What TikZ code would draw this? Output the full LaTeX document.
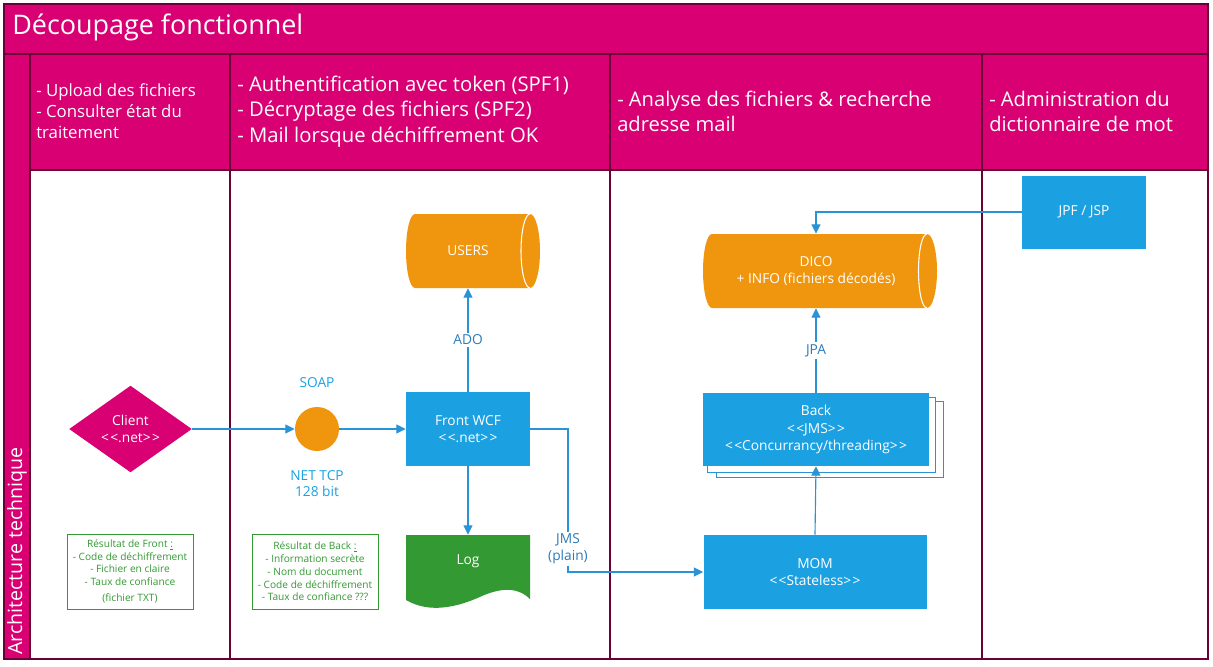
\documentclass[tikz,border=0pt]{standalone}
\usepackage{fontspec}
\setmainfont{Open Sans}
\usetikzlibrary{arrows.meta,shapes.geometric}
\definecolor{mag}{HTML}{D80073}
\definecolor{lane}{HTML}{6B0038}
\definecolor{mblue}{HTML}{1BA1E2}
\definecolor{cblue}{HTML}{2A93D5}
\definecolor{tblue}{HTML}{2B7BB9}
\definecolor{morange}{HTML}{F0960E}
\definecolor{mgreen}{HTML}{339933}
\begin{document}
\begin{tikzpicture}[x=0.75pt,y=-0.75pt,
  lanes/.style={draw=lane,line width=0.8pt},
  hdr/.style={anchor=west,align=left,text=white,inner sep=0pt},
  bluebox/.style={fill=mblue,text=white,align=center,inner sep=0pt,font=\fontsize{10.3}{13}\selectfont},
  ghost/.style={align=center,inner sep=0pt,text=white,font=\fontsize{10.3}{13}\selectfont},
  conn/.style={draw=cblue,line width=0.85pt,-{Triangle[width=6.75pt,length=7pt]}},
  lbl/.style={fill=white,text=tblue,inner sep=1.5pt,align=center,font=\fontsize{10.3}{12.5}\selectfont},
  proto/.style={text=mblue,inner sep=0pt,align=center,font=\fontsize{10.3}{12.5}\selectfont},
  note/.style={draw=mgreen,line width=0.75pt,text=mgreen,align=center,inner sep=0pt,
    minimum width=94.5pt,minimum height=56.25pt,font=\fontsize{7.6}{9.6}\selectfont}]
\useasboundingbox (0,0) rectangle (1213,667);
% pool background
\fill[mag] (4,4) rectangle (1208,170);
\fill[mag] (4,170) rectangle (30,659);
\fill[white] (30,170) rectangle (1208,659);
\draw[lanes] (4,4) rectangle (1208,659);
\draw[lanes] (4,54) -- (1208,54);
\draw[lanes] (30,54) -- (30,659);
\draw[lanes] (30,170) -- (1208,170);
\draw[lanes] (230,54) -- (230,659);
\draw[lanes] (610,54) -- (610,659);
\draw[lanes] (982,54) -- (982,659);
% titles
\node[hdr,font=\fontsize{20.2}{24}\selectfont] (title) at (12,27) {Découpage fonctionnel};
\node[hdr,font=\fontsize{12.6}{15.75}\selectfont] (h1) at (36,111) {- Upload des fichiers\\- Consulter état du\\traitement};
\node[hdr,font=\fontsize{15.2}{19}\selectfont] (h2) at (237,111.5) {- Authentification avec token (SPF1)\\- Décryptage des fichiers (SPF2)\\- Mail lorsque déchiffrement OK};
\node[hdr,font=\fontsize{15.1}{18.75}\selectfont] (h3) at (617,111.5) {- Analyse des fichiers \& recherche\\adresse mail};
\node[hdr,font=\fontsize{15.1}{18.75}\selectfont] (h4) at (989,111.5) {- Administration du\\dictionnaire de mot};
\node[hdr,rotate=90,font=\fontsize{14.7}{17}\selectfont] (arch) at (17,655) {Architecture technique};
% client
\node[diamond,fill=mag,text=white,inner sep=0pt,minimum width=92pt,minimum height=55pt,align=center,
  font=\fontsize{10.3}{13}\selectfont] (client) at (130.5,429) {Client\\<\kern1pt<.net>\kern1pt>};
% soap
\node[circle,fill=morange,minimum size=33pt,inner sep=0pt] (soap) at (317,429) {};
\node[proto] (soaplbl) at (317,383) {SOAP};
\node[proto] (tcplbl) at (317,483.5) {NET TCP\\128 bit};
% front
\node[bluebox,minimum width=93pt,minimum height=55.5pt] (front) at (468,429) {Front WCF\\<\kern1pt<.net>\kern1pt>};
% users cylinder
\fill[morange] (415,214) -- (530,214) .. controls (535.5,214) and (540,230.6) .. (540,251)
  .. controls (540,271.4) and (535.5,288) .. (530,288) -- (415,288)
  .. controls (410,288) and (406,271.4) .. (406,251) .. controls (406,230.6) and (410,214) .. (415,214) -- cycle;
\draw[white,line width=0.8pt] (530,214) .. controls (525,214) and (521,230.6) .. (521,251)
  .. controls (521,271.4) and (525,288) .. (530,288);
\node[ghost,minimum height=55.5pt] (users) at (468,251) {USERS};
% log document
\fill[mgreen] (406,535) -- (530,535) -- (530,599) .. controls (520,589) and (505,586) .. (482,596)
  .. controls (458,607) and (430,614) .. (406,600) -- cycle;
\node[ghost,minimum width=93pt,minimum height=39.75pt] (log) at (468,561.5) {Log};
% notes
\node[note] (note1) at (130,571.5) {Résultat de Front \underline{:}\\- Code de déchiffrement\\- Fichier en claire\\- Taux de confiance\\[2.5pt](fichier TXT)};
\node[note] (note2) at (315,571.5) {Résultat de Back \underline{:}\\- Information secrète\\- Nom du document\\- Code de déchiffrement\\- Taux de confiance ???};
% MOM
\node[bluebox,minimum width=167.25pt,minimum height=55.5pt] (mom) at (815,572) {MOM\\<\kern1pt<Stateless>\kern1pt>};
% Back stack
\draw[cblue,fill=white,line width=0.75pt] (716,401) rectangle (943,477);
\draw[cblue,fill=white,line width=0.75pt] (707,397) rectangle (935,472);
\node[bluebox,minimum width=169.5pt,minimum height=54.75pt] (back) at (816,429.5) {Back\\<\kern1pt<JMS>\kern1pt>\\<\kern1pt<Concurrancy/threading>\kern1pt>};
% DICO cylinder
\fill[morange] (712,234) -- (927,234) .. controls (932.5,234) and (937,250.6) .. (937,271)
  .. controls (937,291.4) and (932.5,308) .. (927,308) -- (712,308)
  .. controls (707,308) and (703,291.4) .. (703,271) .. controls (703,250.6) and (707,234) .. (712,234) -- cycle;
\draw[white,line width=0.8pt] (927,234) .. controls (922,234) and (918.5,250.6) .. (918.5,271)
  .. controls (918.5,291.4) and (922,308) .. (927,308);
\node[ghost,minimum height=55.5pt] (dico) at (816,271) {DICO\\+ INFO (fichiers décodés)};
% JPF
\node[bluebox,minimum width=93pt,minimum height=54.75pt] (jpf) at (1084,212) {JPF / JSP};
% connectors
\draw[conn] (client.east) -- (soap.west);
\draw[conn] (soap.east) -- (front.west);
\draw[conn] (front.north) -- node[lbl] (ado) {ADO} (users.south);
\draw[conn] (front.south) -- (log.north);
\coordinate (jmsbend) at (568,572);
\draw[conn] (front.east) -| (jmsbend) -- (mom.west);
\node[lbl] (jms) at (568,549) {JMS\\(plain)};
\draw[conn] (mom.north) -- (back.south);
\draw[conn] (back.north) -- node[lbl] (jpa) {JPA} (dico.south);
\draw[conn] (jpf.west) -| (dico.north);
\end{tikzpicture}
\end{document}
